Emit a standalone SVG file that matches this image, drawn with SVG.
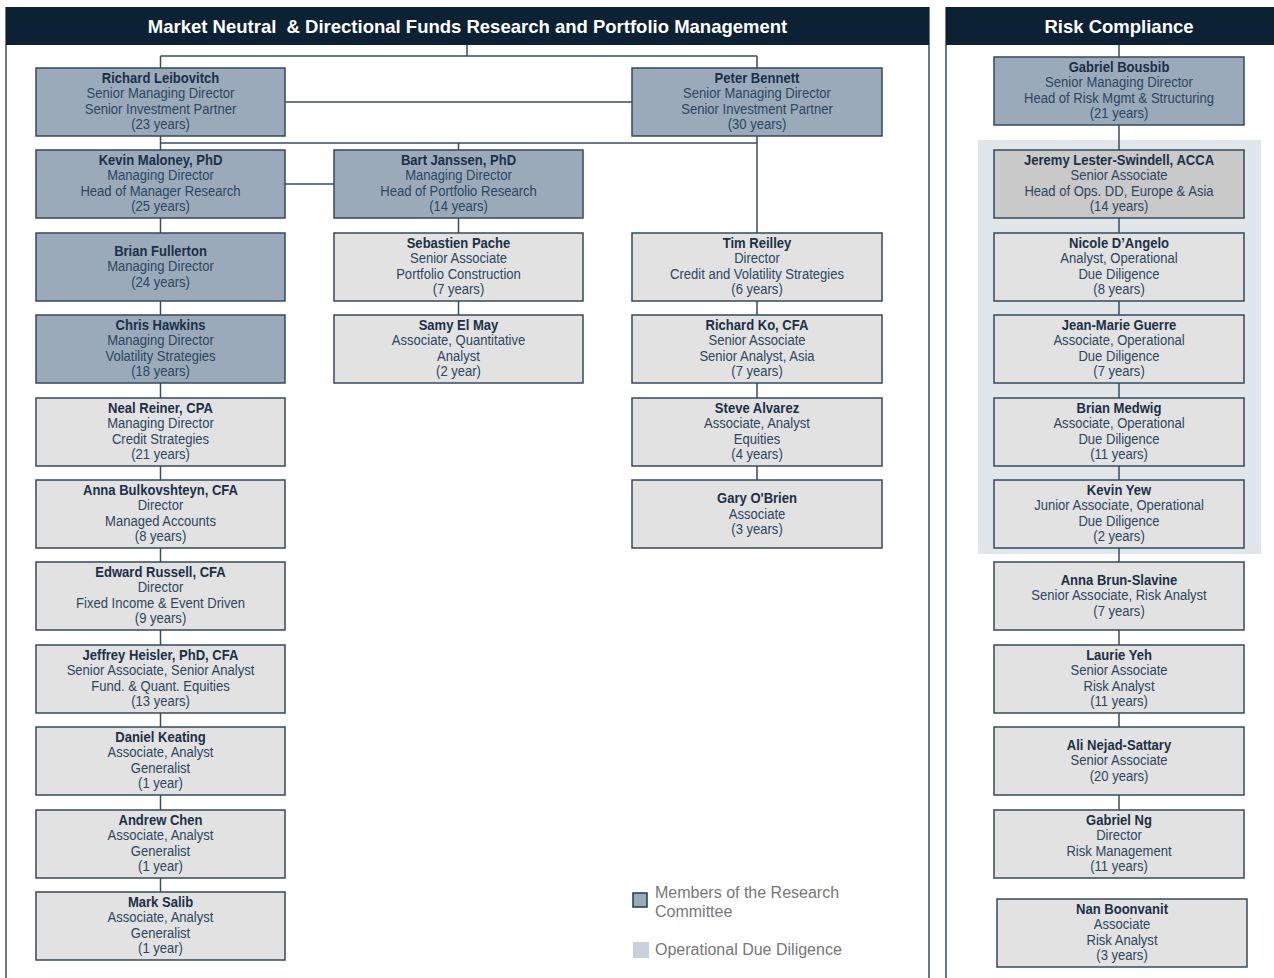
<svg xmlns="http://www.w3.org/2000/svg" width="1274" height="978" viewBox="0 0 1274 978">
<style>
.hdr{fill:#0c2134}
.htx{font-family:"Liberation Sans",Arial,sans-serif;font-weight:bold;font-size:18.5px;fill:#ffffff;text-anchor:middle;white-space:pre}
.pb{stroke:#6d7883;stroke-width:2;fill:none}
.box{stroke:#34495c;stroke-width:1.5}
.rc{fill:#9aaabb}
.reg{fill:#e2e2e2}
.odh{fill:#c9c9c9}
.cn{stroke:#3a4e60;stroke-width:1.5;fill:none}
.nm{font-family:"Liberation Sans",Arial,sans-serif;font-weight:bold;font-size:15px;fill:#1b3048;text-anchor:middle}
.ln{font-family:"Liberation Sans",Arial,sans-serif;font-size:15px;fill:#2c4660;text-anchor:middle}
.lg{font-family:"Liberation Sans",Arial,sans-serif;font-size:16px;fill:#777777}
</style>

<g id="panels">
<rect x="978" y="140" width="283" height="414" fill="#e1e6eb"/>
<path class="pb" d="M6,7 V978 M929,7 V978 M946,7 V978"/>
<rect class="hdr" x="6" y="7" width="923" height="38"/>
<rect class="hdr" x="946" y="7" width="328" height="38"/>
<text class="htx" x="467.5" y="33">Market Neutral  &amp; Directional Funds Research and Portfolio Management</text>
<text class="htx" x="1119" y="33">Risk Compliance</text>
</g>

<g id="connectors">
<path class="cn" d="M467,45 V56 M160.5,56 H757 M160.5,56 V68 M757,56 V68 M285,102 H632 M160.5,136 V150 M160.5,143 H757 M458.5,143 V150 M757,136 V233 M285,184 H334"/>
<path class="cn" d="M160.5,218 V233 M160.5,301 V315 M160.5,383 V398 M160.5,466 V480 M160.5,548 V562 M160.5,630 V645 M160.5,713 V727 M160.5,795 V810 M160.5,878 V892"/>
<path class="cn" d="M458.5,218 V233 M458.5,301 V315"/>
<path class="cn" d="M757,301 V315 M757,383 V398 M757,466 V480"/>
<path class="cn" d="M1119,45 V57 M1119,125 V150 M1119,218 V233 M1119,301 V315 M1119,383 V398 M1119,466 V480 M1119,548 V562 M1119,630 V645 M1119,713 V727 M1119,795 V810"/>
</g>

<!-- Left column -->
<g id="richard-leibovitch"><rect class="box rc" x="36" y="68" width="249" height="68"/>
<g transform="translate(160.5,0) scale(0.87,1)"><text class="nm" x="0" y="83">Richard Leibovitch</text><text class="ln" x="0" y="98.5">Senior Managing Director</text><text class="ln" x="0" y="114">Senior Investment Partner</text><text class="ln" x="0" y="129.5">(23 years)</text></g></g>

<g id="kevin-maloney"><rect class="box rc" x="36" y="150" width="249" height="68"/>
<g transform="translate(160.5,0) scale(0.87,1)"><text class="nm" x="0" y="165">Kevin Maloney, PhD</text><text class="ln" x="0" y="180.5">Managing Director</text><text class="ln" x="0" y="196">Head of Manager Research</text><text class="ln" x="0" y="211.5">(25 years)</text></g></g>

<g id="brian-fullerton"><rect class="box rc" x="36" y="233" width="249" height="68"/>
<g transform="translate(160.5,0) scale(0.87,1)"><text class="nm" x="0" y="256">Brian Fullerton</text><text class="ln" x="0" y="271.5">Managing Director</text><text class="ln" x="0" y="287">(24 years)</text></g></g>

<g id="chris-hawkins"><rect class="box rc" x="36" y="315" width="249" height="68"/>
<g transform="translate(160.5,0) scale(0.87,1)"><text class="nm" x="0" y="330">Chris Hawkins</text><text class="ln" x="0" y="345.5">Managing Director</text><text class="ln" x="0" y="361">Volatility Strategies</text><text class="ln" x="0" y="376.5">(18 years)</text></g></g>

<g id="neal-reiner"><rect class="box reg" x="36" y="398" width="249" height="68"/>
<g transform="translate(160.5,0) scale(0.87,1)"><text class="nm" x="0" y="413">Neal Reiner, CPA</text><text class="ln" x="0" y="428.5">Managing Director</text><text class="ln" x="0" y="444">Credit Strategies</text><text class="ln" x="0" y="459.5">(21 years)</text></g></g>

<g id="anna-bulkovshteyn"><rect class="box reg" x="36" y="480" width="249" height="68"/>
<g transform="translate(160.5,0) scale(0.87,1)"><text class="nm" x="0" y="495">Anna Bulkovshteyn, CFA</text><text class="ln" x="0" y="510.5">Director</text><text class="ln" x="0" y="526">Managed Accounts</text><text class="ln" x="0" y="541.5">(8 years)</text></g></g>

<g id="edward-russell"><rect class="box reg" x="36" y="562" width="249" height="68"/>
<g transform="translate(160.5,0) scale(0.87,1)"><text class="nm" x="0" y="577">Edward Russell, CFA</text><text class="ln" x="0" y="592.5">Director</text><text class="ln" x="0" y="608">Fixed Income &amp; Event Driven</text><text class="ln" x="0" y="623.5">(9 years)</text></g></g>

<g id="jeffrey-heisler"><rect class="box reg" x="36" y="645" width="249" height="68"/>
<g transform="translate(160.5,0) scale(0.87,1)"><text class="nm" x="0" y="660">Jeffrey Heisler, PhD, CFA</text><text class="ln" x="0" y="675.5">Senior Associate, Senior Analyst</text><text class="ln" x="0" y="691">Fund. &amp; Quant. Equities</text><text class="ln" x="0" y="706.5">(13 years)</text></g></g>

<g id="daniel-keating"><rect class="box reg" x="36" y="727" width="249" height="68"/>
<g transform="translate(160.5,0) scale(0.87,1)"><text class="nm" x="0" y="742">Daniel Keating</text><text class="ln" x="0" y="757.5">Associate, Analyst</text><text class="ln" x="0" y="773">Generalist</text><text class="ln" x="0" y="788.5">(1 year)</text></g></g>

<g id="andrew-chen"><rect class="box reg" x="36" y="810" width="249" height="68"/>
<g transform="translate(160.5,0) scale(0.87,1)"><text class="nm" x="0" y="825">Andrew Chen</text><text class="ln" x="0" y="840.5">Associate, Analyst</text><text class="ln" x="0" y="856">Generalist</text><text class="ln" x="0" y="871.5">(1 year)</text></g></g>

<g id="mark-salib"><rect class="box reg" x="36" y="892" width="249" height="68"/>
<g transform="translate(160.5,0) scale(0.87,1)"><text class="nm" x="0" y="907">Mark Salib</text><text class="ln" x="0" y="922.5">Associate, Analyst</text><text class="ln" x="0" y="938">Generalist</text><text class="ln" x="0" y="953.5">(1 year)</text></g></g>

<!-- Middle column -->
<g id="bart-janssen"><rect class="box rc" x="334" y="150" width="249" height="68"/>
<g transform="translate(458.5,0) scale(0.87,1)"><text class="nm" x="0" y="165">Bart Janssen, PhD</text><text class="ln" x="0" y="180.5">Managing Director</text><text class="ln" x="0" y="196">Head of Portfolio Research</text><text class="ln" x="0" y="211.5">(14 years)</text></g></g>

<g id="sebastien-pache"><rect class="box reg" x="334" y="233" width="249" height="68"/>
<g transform="translate(458.5,0) scale(0.87,1)"><text class="nm" x="0" y="248">Sebastien Pache</text><text class="ln" x="0" y="263.5">Senior Associate</text><text class="ln" x="0" y="279">Portfolio Construction</text><text class="ln" x="0" y="294.5">(7 years)</text></g></g>

<g id="samy-el-may"><rect class="box reg" x="334" y="315" width="249" height="68"/>
<g transform="translate(458.5,0) scale(0.87,1)"><text class="nm" x="0" y="330">Samy El May</text><text class="ln" x="0" y="345.5">Associate, Quantitative</text><text class="ln" x="0" y="361">Analyst</text><text class="ln" x="0" y="376.5">(2 year)</text></g></g>

<!-- Right column -->
<g id="peter-bennett"><rect class="box rc" x="632" y="68" width="250" height="68"/>
<g transform="translate(757,0) scale(0.87,1)"><text class="nm" x="0" y="83">Peter Bennett</text><text class="ln" x="0" y="98.5">Senior Managing Director</text><text class="ln" x="0" y="114">Senior Investment Partner</text><text class="ln" x="0" y="129.5">(30 years)</text></g></g>

<g id="tim-reilley"><rect class="box reg" x="632" y="233" width="250" height="68"/>
<g transform="translate(757,0) scale(0.87,1)"><text class="nm" x="0" y="248">Tim Reilley</text><text class="ln" x="0" y="263.5">Director</text><text class="ln" x="0" y="279">Credit and Volatility Strategies</text><text class="ln" x="0" y="294.5">(6 years)</text></g></g>

<g id="richard-ko"><rect class="box reg" x="632" y="315" width="250" height="68"/>
<g transform="translate(757,0) scale(0.87,1)"><text class="nm" x="0" y="330">Richard Ko, CFA</text><text class="ln" x="0" y="345.5">Senior Associate</text><text class="ln" x="0" y="361">Senior Analyst, Asia</text><text class="ln" x="0" y="376.5">(7 years)</text></g></g>

<g id="steve-alvarez"><rect class="box reg" x="632" y="398" width="250" height="68"/>
<g transform="translate(757,0) scale(0.87,1)"><text class="nm" x="0" y="413">Steve Alvarez</text><text class="ln" x="0" y="428.5">Associate, Analyst</text><text class="ln" x="0" y="444">Equities</text><text class="ln" x="0" y="459.5">(4 years)</text></g></g>

<g id="gary-obrien"><rect class="box reg" x="632" y="480" width="250" height="68"/>
<g transform="translate(757,0) scale(0.87,1)"><text class="nm" x="0" y="503.5">Gary O'Brien</text><text class="ln" x="0" y="519">Associate</text><text class="ln" x="0" y="534.5">(3 years)</text></g></g>

<!-- Risk Compliance -->
<g id="gabriel-bousbib"><rect class="box rc" x="994" y="57" width="250" height="68"/>
<g transform="translate(1119,0) scale(0.87,1)"><text class="nm" x="0" y="72">Gabriel Bousbib</text><text class="ln" x="0" y="87.5">Senior Managing Director</text><text class="ln" x="0" y="103">Head of Risk Mgmt &amp; Structuring</text><text class="ln" x="0" y="118.5">(21 years)</text></g></g>

<g id="jeremy-lester-swindell"><rect class="box odh" x="994" y="150" width="250" height="68"/>
<g transform="translate(1119,0) scale(0.87,1)"><text class="nm" x="0" y="165">Jeremy Lester-Swindell, ACCA</text><text class="ln" x="0" y="180.5">Senior Associate</text><text class="ln" x="0" y="196">Head of Ops. DD, Europe &amp; Asia</text><text class="ln" x="0" y="211.5">(14 years)</text></g></g>

<g id="nicole-dangelo"><rect class="box reg" x="994" y="233" width="250" height="68"/>
<g transform="translate(1119,0) scale(0.87,1)"><text class="nm" x="0" y="248">Nicole D’Angelo</text><text class="ln" x="0" y="263.5">Analyst, Operational</text><text class="ln" x="0" y="279">Due Diligence</text><text class="ln" x="0" y="294.5">(8 years)</text></g></g>

<g id="jean-marie-guerre"><rect class="box reg" x="994" y="315" width="250" height="68"/>
<g transform="translate(1119,0) scale(0.87,1)"><text class="nm" x="0" y="330">Jean-Marie Guerre</text><text class="ln" x="0" y="345.5">Associate, Operational</text><text class="ln" x="0" y="361">Due Diligence</text><text class="ln" x="0" y="376.5">(7 years)</text></g></g>

<g id="brian-medwig"><rect class="box reg" x="994" y="398" width="250" height="68"/>
<g transform="translate(1119,0) scale(0.87,1)"><text class="nm" x="0" y="413">Brian Medwig</text><text class="ln" x="0" y="428.5">Associate, Operational</text><text class="ln" x="0" y="444">Due Diligence</text><text class="ln" x="0" y="459.5">(11 years)</text></g></g>

<g id="kevin-yew"><rect class="box reg" x="994" y="480" width="250" height="68"/>
<g transform="translate(1119,0) scale(0.87,1)"><text class="nm" x="0" y="495">Kevin Yew</text><text class="ln" x="0" y="510.5">Junior Associate, Operational</text><text class="ln" x="0" y="526">Due Diligence</text><text class="ln" x="0" y="541.5">(2 years)</text></g></g>

<g id="anna-brun-slavine"><rect class="box reg" x="994" y="562" width="250" height="68"/>
<g transform="translate(1119,0) scale(0.87,1)"><text class="nm" x="0" y="585">Anna Brun-Slavine</text><text class="ln" x="0" y="600.5">Senior Associate, Risk Analyst</text><text class="ln" x="0" y="616">(7 years)</text></g></g>

<g id="laurie-yeh"><rect class="box reg" x="994" y="645" width="250" height="68"/>
<g transform="translate(1119,0) scale(0.87,1)"><text class="nm" x="0" y="660">Laurie Yeh</text><text class="ln" x="0" y="675.5">Senior Associate</text><text class="ln" x="0" y="691">Risk Analyst</text><text class="ln" x="0" y="706.5">(11 years)</text></g></g>

<g id="ali-nejad-sattary"><rect class="box reg" x="994" y="727" width="250" height="68"/>
<g transform="translate(1119,0) scale(0.87,1)"><text class="nm" x="0" y="750">Ali Nejad-Sattary</text><text class="ln" x="0" y="765.5">Senior Associate</text><text class="ln" x="0" y="781">(20 years)</text></g></g>

<g id="gabriel-ng"><rect class="box reg" x="994" y="810" width="250" height="68"/>
<g transform="translate(1119,0) scale(0.87,1)"><text class="nm" x="0" y="825">Gabriel Ng</text><text class="ln" x="0" y="840.5">Director</text><text class="ln" x="0" y="856">Risk Management</text><text class="ln" x="0" y="871.5">(11 years)</text></g></g>

<g id="nan-boonvanit"><rect class="box reg" x="997" y="899" width="250" height="68"/>
<g transform="translate(1122,0) scale(0.87,1)"><text class="nm" x="0" y="914">Nan Boonvanit</text><text class="ln" x="0" y="929.5">Associate</text><text class="ln" x="0" y="945">Risk Analyst</text><text class="ln" x="0" y="960.5">(3 years)</text></g></g>

<!-- Legend -->
<g id="legend">
<rect x="633" y="893" width="14" height="14" fill="#9aaabb" stroke="#1d3a52" stroke-width="1.5"/>
<text class="lg" x="655" y="898">Members of the Research</text>
<text class="lg" x="655" y="917">Committee</text>
<rect x="633" y="942" width="16" height="16" fill="#c9d1dc"/>
<text class="lg" x="655" y="955">Operational Due Diligence</text>
</g>
</svg>
